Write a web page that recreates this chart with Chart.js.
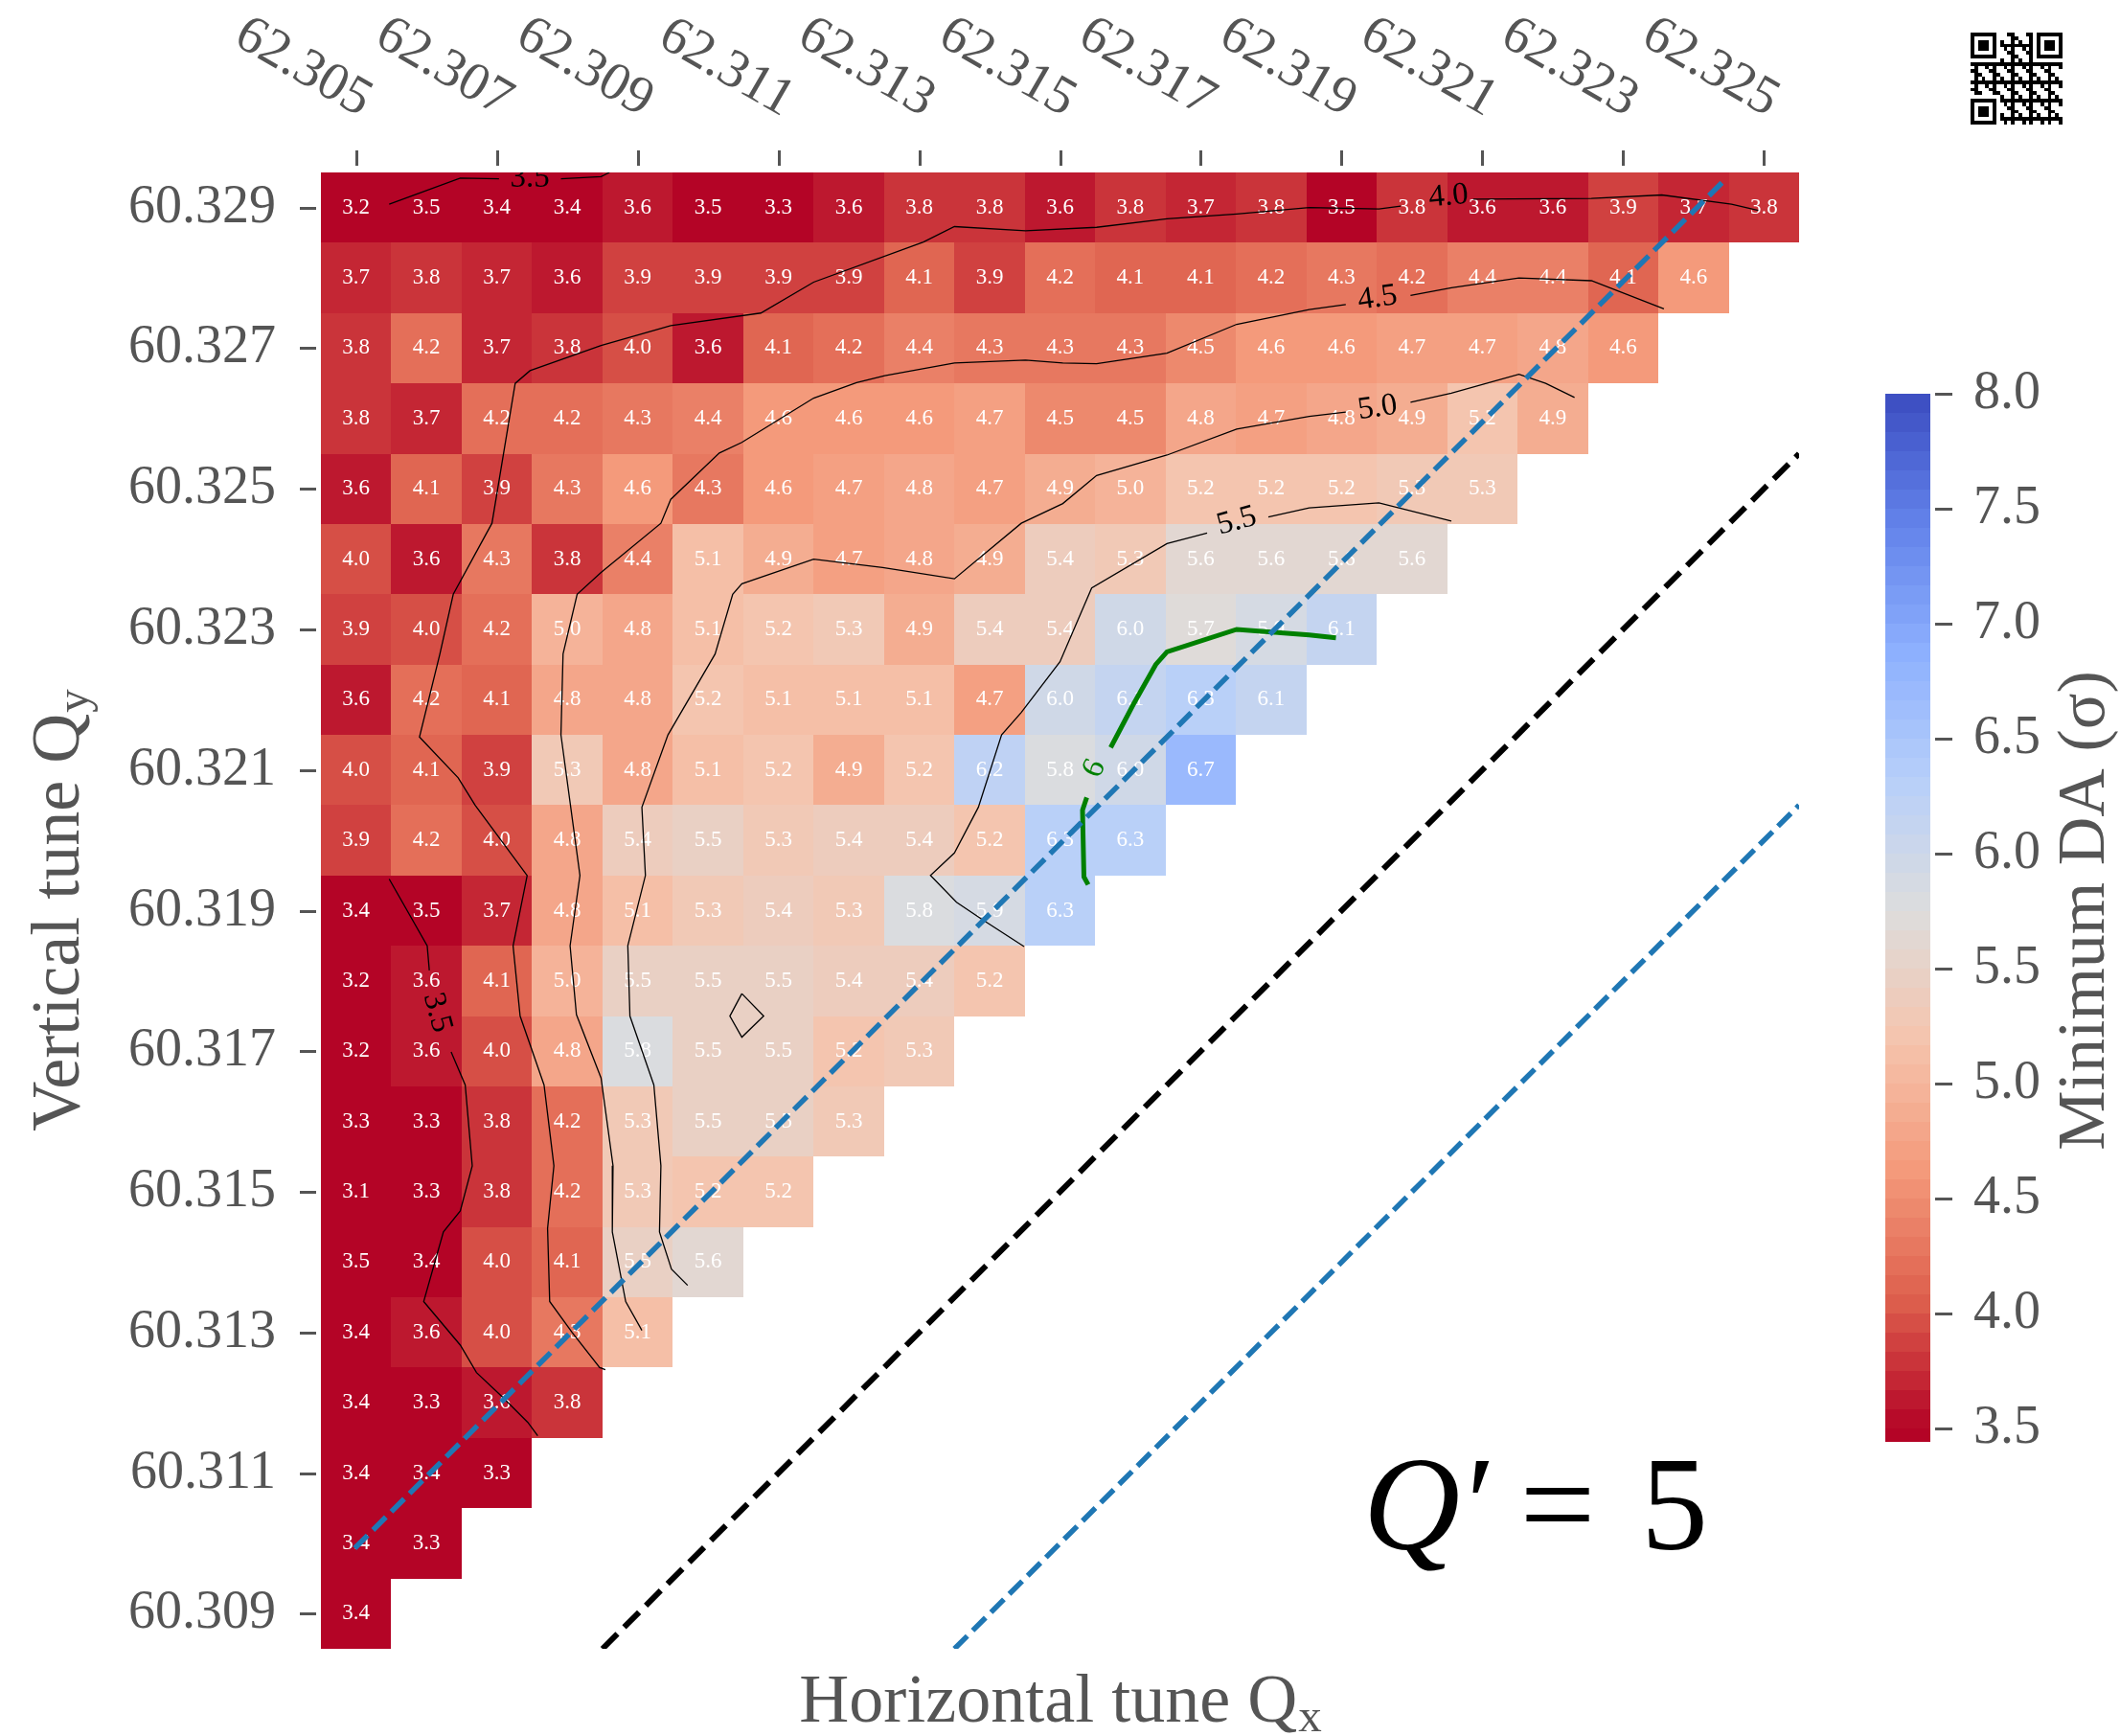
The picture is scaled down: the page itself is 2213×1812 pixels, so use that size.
<!DOCTYPE html>
<html>
<head>
<meta charset="utf-8">
<title>Minimum DA tune scan</title>
<script src="https://cdn.jsdelivr.net/npm/chart.js@4.4.1/dist/chart.umd.min.js"></script>
<style>
  html, body { margin: 0; padding: 0; background: #fff; }
  #wrap { width: 2213px; height: 1812px; }
</style>
</head>
<body>
<div id="wrap"><canvas id="daChart" width="2213" height="1812"></canvas></div>
<script>
// tune grid (cell centres)
var qxCells = [62.305, 62.306, 62.307, 62.308, 62.309, 62.310, 62.311, 62.312, 62.313, 62.314, 62.315,
  62.316, 62.317, 62.318, 62.319, 62.320, 62.321, 62.322, 62.323, 62.324, 62.325];
var qyCells = [60.329, 60.328, 60.327, 60.326, 60.325, 60.324, 60.323, 60.322, 60.321, 60.320, 60.319,
  60.318, 60.317, 60.316, 60.315, 60.314, 60.313, 60.312, 60.311, 60.310, 60.309];

// minimum DA (sigma), one row per Qy, starting at Qx = 62.305
var minDA = [
  [3.2, 3.5, 3.4, 3.4, 3.6, 3.5, 3.3, 3.6, 3.8, 3.8, 3.6, 3.8, 3.7, 3.8, 3.5, 3.8, 3.6, 3.6, 3.9, 3.7, 3.8],
  [3.7, 3.8, 3.7, 3.6, 3.9, 3.9, 3.9, 3.9, 4.1, 3.9, 4.2, 4.1, 4.1, 4.2, 4.3, 4.2, 4.4, 4.4, 4.1, 4.6],
  [3.8, 4.2, 3.7, 3.8, 4.0, 3.6, 4.1, 4.2, 4.4, 4.3, 4.3, 4.3, 4.5, 4.6, 4.6, 4.7, 4.7, 4.8, 4.6],
  [3.8, 3.7, 4.2, 4.2, 4.3, 4.4, 4.6, 4.6, 4.6, 4.7, 4.5, 4.5, 4.8, 4.7, 4.8, 4.9, 5.2, 4.9],
  [3.6, 4.1, 3.9, 4.3, 4.6, 4.3, 4.6, 4.7, 4.8, 4.7, 4.9, 5.0, 5.2, 5.2, 5.2, 5.3, 5.3],
  [4.0, 3.6, 4.3, 3.8, 4.4, 5.1, 4.9, 4.7, 4.8, 4.9, 5.4, 5.3, 5.6, 5.6, 5.6, 5.6],
  [3.9, 4.0, 4.2, 5.0, 4.8, 5.1, 5.2, 5.3, 4.9, 5.4, 5.4, 6.0, 5.7, 5.9, 6.1],
  [3.6, 4.2, 4.1, 4.8, 4.8, 5.2, 5.1, 5.1, 5.1, 4.7, 6.0, 6.1, 6.3, 6.1],
  [4.0, 4.1, 3.9, 5.3, 4.8, 5.1, 5.2, 4.9, 5.2, 6.2, 5.8, 6.0, 6.7],
  [3.9, 4.2, 4.0, 4.8, 5.4, 5.5, 5.3, 5.4, 5.4, 5.2, 6.3, 6.3],
  [3.4, 3.5, 3.7, 4.8, 5.1, 5.3, 5.4, 5.3, 5.8, 5.9, 6.3],
  [3.2, 3.6, 4.1, 5.0, 5.5, 5.5, 5.5, 5.4, 5.4, 5.2],
  [3.2, 3.6, 4.0, 4.8, 5.8, 5.5, 5.5, 5.2, 5.3],
  [3.3, 3.3, 3.8, 4.2, 5.3, 5.5, 5.5, 5.3],
  [3.1, 3.3, 3.8, 4.2, 5.3, 5.2, 5.2],
  [3.5, 3.4, 4.0, 4.1, 5.5, 5.6],
  [3.4, 3.6, 4.0, 4.3, 5.1],
  [3.4, 3.3, 3.6, 3.8],
  [3.4, 3.4, 3.3],
  [3.4, 3.3],
  [3.4]
];

var qxTickLabels = ['62.305', '62.307', '62.309', '62.311', '62.313', '62.315', '62.317', '62.319', '62.321', '62.323', '62.325'];
var qyTickLabels = ['60.329', '60.327', '60.325', '60.323', '60.321', '60.319', '60.317', '60.315', '60.313', '60.311', '60.309'];
var cbTickLabels = ['3.5', '4.0', '4.5', '5.0', '5.5', '6.0', '6.5', '7.0', '7.5', '8.0'];

// contour lines, [Qx, Qy]; null = break for the inline label
var contour35 = [
  [62.30547, 60.32905], [62.30648, 60.32942], [62.30703, 60.32941], null,
  [62.30791, 60.32941], [62.30848, 60.32944], [62.30860, 60.32950], null,
  [62.30547, 60.31945], [62.30601, 60.31850], [62.30604, 60.31815], null,
  [62.30635, 60.31699], [62.30655, 60.31652], [62.30665, 60.31537], [62.30648, 60.31473], [62.30624, 60.31443],
  [62.30596, 60.31344], [62.30648, 60.31282], [62.30671, 60.31243], [62.30708, 60.31208], [62.30744, 60.31172],
  [62.30758, 60.31153]
];
var contour40 = [
  [62.32492, 60.32896], [62.32454, 60.32905], [62.32355, 60.32918], [62.32255, 60.32913], [62.32087, 60.32912], null,
  [62.31984, 60.32902], [62.31953, 60.32898], [62.31854, 60.32900], [62.31751, 60.32891], [62.31652, 60.32884],
  [62.31552, 60.32872], [62.31451, 60.32867], [62.31350, 60.32873], [62.31306, 60.32851], [62.31150, 60.32794],
  [62.31075, 60.32750], [62.30947, 60.32732], [62.30848, 60.32704], [62.30747, 60.32668], [62.30726, 60.32650],
  [62.30693, 60.32451], [62.30638, 60.32350], [62.30619, 60.32265], [62.30590, 60.32147], [62.30645, 60.32089],
  [62.30669, 60.32050], [62.30743, 60.31950], [62.30723, 60.31850], [62.30733, 60.31750], [62.30767, 60.31652],
  [62.30781, 60.31537], [62.30772, 60.31448], [62.30775, 60.31344], [62.30807, 60.31300], [62.30846, 60.31250],
  [62.30854, 60.31247]
];
var contour45 = [
  [62.32358, 60.32756], [62.32255, 60.32796], [62.32152, 60.32800], [62.32056, 60.32786], [62.31998, 60.32775], null,
  [62.31906, 60.32762], [62.31854, 60.32755], [62.31751, 60.32734], [62.31652, 60.32693], [62.31552, 60.32678],
  [62.31504, 60.32679], [62.31451, 60.32683], [62.31350, 60.32679], [62.31251, 60.32661], [62.31211, 60.32651],
  [62.31150, 60.32629], [62.31048, 60.32566], [62.31016, 60.32551], [62.30947, 60.32485], [62.30933, 60.32451],
  [62.30848, 60.32381], [62.30814, 60.32350], [62.30794, 60.32265], [62.30791, 60.32150], [62.30818, 60.31950],
  [62.30804, 60.31850], [62.30813, 60.31752], [62.30848, 60.31662], [62.30865, 60.31537], [62.30864, 60.31443],
  [62.30883, 60.31344], [62.30906, 60.31303]
];
var contour50 = [
  [62.32231, 60.32630], [62.32190, 60.32650], [62.32152, 60.32663], [62.32056, 60.32636], [62.31998, 60.32623], null,
  [62.31906, 60.32609], [62.31854, 60.32603], [62.31751, 60.32585], [62.31652, 60.32548], [62.31552, 60.32519],
  [62.31504, 60.32479], [62.31445, 60.32451], [62.31350, 60.32372], [62.31248, 60.32388], [62.31150, 60.32400],
  [62.31048, 60.32365], [62.31035, 60.32350], [62.31010, 60.32265], [62.30943, 60.32150], [62.30906, 60.32047],
  [62.30911, 60.31950], [62.30886, 60.31850], [62.30889, 60.31750], [62.30923, 60.31652], [62.30933, 60.31537],
  [62.30931, 60.31443], [62.30948, 60.31390], [62.30971, 60.31367]
];
var contour55 = [
  [62.32056, 60.32454], [62.31953, 60.32480], [62.31854, 60.32473], [62.31796, 60.32460], null,
  [62.31709, 60.32437], [62.31652, 60.32422], [62.31545, 60.32359], [62.31500, 60.32254], [62.31445, 60.32182],
  [62.31417, 60.32150], [62.31384, 60.32047], [62.31350, 60.31982], [62.31316, 60.31950], [62.31353, 60.31912],
  [62.31390, 60.31887], [62.31449, 60.31849], null,
  [62.31048, 60.31782], [62.31079, 60.31750], [62.31048, 60.31720], [62.31031, 60.31750], [62.31048, 60.31782]
];
var contour60 = [
  [62.31892, 60.32288], [62.31854, 60.32292], [62.31751, 60.32300], [62.31652, 60.32268], [62.31636, 60.32250],
  [62.31604, 60.32193], [62.31572, 60.32132], null,
  [62.31538, 60.32061], [62.31532, 60.32043], [62.31534, 60.31948], [62.31540, 60.31937]
];
var contourLabels = [
  ['3.5', 62.30747, 60.32941], ['3.5', 62.30615, 60.31755], ['4.0', 62.32052, 60.32916], ['4.5', 62.31951, 60.32771],
  ['5.0', 62.31951, 60.32615], ['5.5', 62.31751, 60.32454], ['6', 62.31549, 60.32102]
];
var contourLabelAngles = [0, 75, -5, -8, -8, -15, -64];

// coupling resonance Qx - Qy = 2 and the +-0.005 band
var resonanceMain = [[62.3085, 60.3085], [62.3255, 60.3255]];
var resonanceUpper = [[62.30498, 60.30993], [62.32447, 60.32942]];
var resonanceLower = [[62.3135, 60.3085], [62.3255, 60.3205]];

var serif = '"Liberation Serif", "Times New Roman", serif';
var axisGray = '#555555';
var HALF = 0.0005;
var DA_MIN = 3.5, DA_MAX = 8.0, BANDS = 12;
var COOLWARM = [[59, 76, 192], [98, 130, 234], [141, 176, 254], [184, 208, 249], [221, 221, 221],
  [245, 196, 173], [244, 154, 123], [222, 96, 77], [180, 4, 38]];

function coolwarmR(v) {
  var t = 1 - (v - DA_MIN) / (DA_MAX - DA_MIN);
  t = Math.max(0, Math.min(1, t));
  var s = t * 8, i = Math.min(7, Math.floor(s)), f = s - i;
  var a = COOLWARM[i], b = COOLWARM[i + 1];
  return 'rgb(' + Math.round(a[0] + (b[0] - a[0]) * f) + ',' + Math.round(a[1] + (b[1] - a[1]) * f) + ',' +
    Math.round(a[2] + (b[2] - a[2]) * f) + ')';
}
function daColor(v) {
  var k = Math.floor((DA_MAX - v) * BANDS + 1e-9);
  return coolwarmR(DA_MAX - (k + 0.5) / BANDS);
}

function segments(arr) {
  var out = [], cur = [];
  arr.forEach(function (p) {
    if (p === null) { out.push(cur); cur = []; } else cur.push({ x: p[0], y: p[1] });
  });
  out.push(cur);
  return out;
}

var datasets = [];
function addLines(arr, style) {
  segments(arr).forEach(function (seg) {
    datasets.push(Object.assign({ data: seg, showLine: true, pointRadius: 0, pointHoverRadius: 0, fill: false, clip: 0, tension: 0 }, style));
  });
}
addLines(resonanceMain, { borderColor: '#000000', borderWidth: 6, borderDash: [22, 10], order: 0 });
addLines(resonanceUpper, { borderColor: '#1f77b4', borderWidth: 5.5, borderDash: [19, 8], order: 0 });
addLines(resonanceLower, { borderColor: '#1f77b4', borderWidth: 5.5, borderDash: [19, 8], order: 0 });
addLines(contour60, { borderColor: '#008000', borderWidth: 5, order: 1 });
[contour35, contour40, contour45, contour50, contour55].forEach(function (c) {
  addLines(c, { borderColor: '#000000', borderWidth: 1.3, order: 2 });
});

var heatmapPlugin = {
  id: 'heatmap',
  beforeDraw: function (chart) {
    var ctx = chart.ctx;
    ctx.save();
    ctx.fillStyle = '#ffffff';
    ctx.fillRect(0, 0, chart.width, chart.height);
    ctx.restore();
  },
  beforeDatasetsDraw: function (chart) {
    var ctx = chart.ctx, xs = chart.scales.x, ys = chart.scales.y;
    ctx.save();
    minDA.forEach(function (row, r) {
      row.forEach(function (v, c) {
        var x0 = Math.round(xs.getPixelForValue(qxCells[c] - HALF));
        var x1 = Math.round(xs.getPixelForValue(qxCells[c] + HALF));
        var y0 = Math.round(ys.getPixelForValue(qyCells[r] + HALF));
        var y1 = Math.round(ys.getPixelForValue(qyCells[r] - HALF));
        ctx.fillStyle = daColor(v);
        ctx.fillRect(x0, y0, x1 - x0, y1 - y0);
      });
    });
    ctx.fillStyle = '#ffffff';
    ctx.font = '23px ' + serif;
    ctx.textAlign = 'center';
    ctx.textBaseline = 'middle';
    minDA.forEach(function (row, r) {
      row.forEach(function (v, c) {
        ctx.fillText(v.toFixed(1), xs.getPixelForValue(qxCells[c]), ys.getPixelForValue(qyCells[r]));
      });
    });
    ctx.restore();
  }
};

function drawSubText(ctx, main, sub, cx, baseline, size) {
  var subSize = Math.round(size * 0.68);
  ctx.font = size + 'px ' + serif;
  var w1 = ctx.measureText(main).width;
  ctx.font = subSize + 'px ' + serif;
  var w2 = ctx.measureText(sub).width;
  var x0 = cx - (w1 + w2) / 2;
  ctx.textAlign = 'left';
  ctx.textBaseline = 'alphabetic';
  ctx.font = size + 'px ' + serif;
  ctx.fillText(main, x0, baseline);
  ctx.font = subSize + 'px ' + serif;
  ctx.fillText(sub, x0 + w1 + 1, baseline + size * 0.14);
}

var decorPlugin = {
  id: 'decor',
  afterDatasetsDraw: function (chart) {
    var ctx = chart.ctx, xs = chart.scales.x, ys = chart.scales.y, a = chart.chartArea;
    ctx.save();
    ctx.beginPath();
    ctx.rect(a.left, a.top, a.right - a.left, a.bottom - a.top);
    ctx.clip();
    ctx.font = '33px ' + serif;
    ctx.textAlign = 'center';
    ctx.textBaseline = 'middle';
    contourLabels.forEach(function (l, i) {
      ctx.save();
      ctx.translate(xs.getPixelForValue(l[1]), ys.getPixelForValue(l[2]));
      ctx.rotate(contourLabelAngles[i] * Math.PI / 180);
      ctx.fillStyle = l[0] === '6' ? '#008000' : '#000000';
      ctx.fillText(l[0], 0, 0);
      ctx.restore();
    });
    ctx.restore();
  },
  afterDraw: function (chart) {
    var ctx = chart.ctx, xs = chart.scales.x, ys = chart.scales.y, a = chart.chartArea;
    ctx.save();
    ctx.fillStyle = axisGray;
    ctx.strokeStyle = axisGray;
    ctx.lineWidth = 3;
    ctx.font = '56px ' + serif;

    // left axis
    ctx.textAlign = 'right';
    ctx.textBaseline = 'middle';
    qyTickLabels.forEach(function (t) {
      var y = Math.round(ys.getPixelForValue(parseFloat(t))) + 0.5;
      ctx.beginPath(); ctx.moveTo(a.left - 22, y); ctx.lineTo(a.left - 5, y); ctx.stroke();
      ctx.fillText(t, a.left - 47, y);
    });

    // top axis, labels slanted down towards their tick
    qxTickLabels.forEach(function (t) {
      var x = Math.round(xs.getPixelForValue(parseFloat(t))) + 0.5;
      ctx.beginPath(); ctx.moveTo(x, a.top - 23); ctx.lineTo(x, a.top - 7); ctx.stroke();
      ctx.save();
      ctx.translate(x + 3, a.top - 58);
      ctx.rotate(Math.PI / 6);
      ctx.textAlign = 'right';
      ctx.textBaseline = 'alphabetic';
      ctx.fillText(t, 0, 0);
      ctx.restore();
    });

    // axis titles
    drawSubText(ctx, 'Horizontal tune Q', 'x', (a.left + a.right) / 2, 1797, 72);
    ctx.save();
    ctx.translate(82, (a.top + a.bottom) / 2);
    ctx.rotate(-Math.PI / 2);
    drawSubText(ctx, 'Vertical tune Q', 'y', 0, 0, 72);
    ctx.restore();

    // colour bar
    var cbLeft = 1968, cbRight = 2015, cbTop = 410.5, cbPx = 240.2, cbLow = 3.444;
    function cbY(v) { return cbTop + (DA_MAX - v) * cbPx; }
    for (var k = 0; ; k++) {
      var vHi = DA_MAX - k / BANDS, vLo = Math.max(cbLow, DA_MAX - (k + 1) / BANDS);
      ctx.fillStyle = coolwarmR(DA_MAX - (k + 0.5) / BANDS);
      var y0 = Math.round(cbY(vHi)), y1 = Math.round(cbY(vLo));
      ctx.fillRect(cbLeft, y0, cbRight - cbLeft, y1 - y0);
      if (vLo <= cbLow) break;
    }
    ctx.fillStyle = axisGray;
    ctx.textAlign = 'left';
    ctx.textBaseline = 'middle';
    ctx.font = '56px ' + serif;
    cbTickLabels.forEach(function (t) {
      var y = Math.round(cbY(parseFloat(t))) + 0.5;
      ctx.beginPath(); ctx.moveTo(cbRight + 5, y); ctx.lineTo(cbRight + 23, y); ctx.stroke();
      ctx.fillText(t, cbRight + 45, y);
    });
    ctx.save();
    ctx.translate(2196, (a.top + a.bottom) / 2);
    ctx.rotate(-Math.PI / 2);
    ctx.textAlign = 'center';
    ctx.textBaseline = 'alphabetic';
    ctx.font = '70px ' + serif;
    ctx.fillText('Minimum DA (\u03C3)', 0, 0);
    ctx.restore();

    // chromaticity note
    ctx.fillStyle = '#000000';
    ctx.textBaseline = 'alphabetic';
    ctx.textAlign = 'left';
    ctx.font = 'italic 140px ' + serif;
    ctx.fillText('Q', 1423, 1617);
    ctx.fillText('\u2032', 1522, 1617);
    ctx.font = '140px ' + serif;
    ctx.textAlign = 'center';
    ctx.fillText('=', 1626, 1617);
    ctx.textAlign = 'left';
    ctx.fillText('5', 1713, 1617);

    // QR badge
    var qx0 = 2057, qy0 = 34, n = 25, m = 96 / n;
    function finder(i, j) {
      var corners = [[0, 0], [0, n - 7], [n - 7, 0]];
      for (var c = 0; c < 3; c++) {
        var u = i - corners[c][0], w = j - corners[c][1];
        if (u >= -1 && u <= 7 && w >= -1 && w <= 7) {
          if (u < 0 || u > 6 || w < 0 || w > 6) return 0;
          if (u === 0 || u === 6 || w === 0 || w === 6) return 1;
          if (u >= 2 && u <= 4 && w >= 2 && w <= 4) return 1;
          return 0;
        }
      }
      return -1;
    }
    ctx.fillStyle = '#000000';
    for (var i = 0; i < n; i++) {
      for (var j = 0; j < n; j++) {
        var f = finder(i, j);
        var dark = f === -1 ? ((i * 7 + j * 11 + i * j * 3) % 5 < 2) : f === 1;
        if (dark) {
          var px0 = Math.round(qx0 + j * m), py0 = Math.round(qy0 + i * m);
          ctx.fillRect(px0, py0, Math.round(qx0 + (j + 1) * m) - px0, Math.round(qy0 + (i + 1) * m) - py0);
        }
      }
    }
    ctx.restore();
  }
};

Chart.defaults.font.family = serif;

new Chart(document.getElementById('daChart').getContext('2d'), {
  type: 'scatter',
  data: { datasets: datasets },
  options: {
    responsive: false,
    devicePixelRatio: 1,
    animation: false,
    events: [],
    layout: { padding: { left: 335, right: 335, top: 180, bottom: 91 } },
    plugins: { legend: { display: false }, tooltip: { enabled: false } },
    scales: {
      x: { type: 'linear', min: 62.3045, max: 62.3255, display: false },
      y: { type: 'linear', min: 60.3085, max: 60.3295, display: false }
    }
  },
  plugins: [heatmapPlugin, decorPlugin]
});
</script>
</body>
</html>
